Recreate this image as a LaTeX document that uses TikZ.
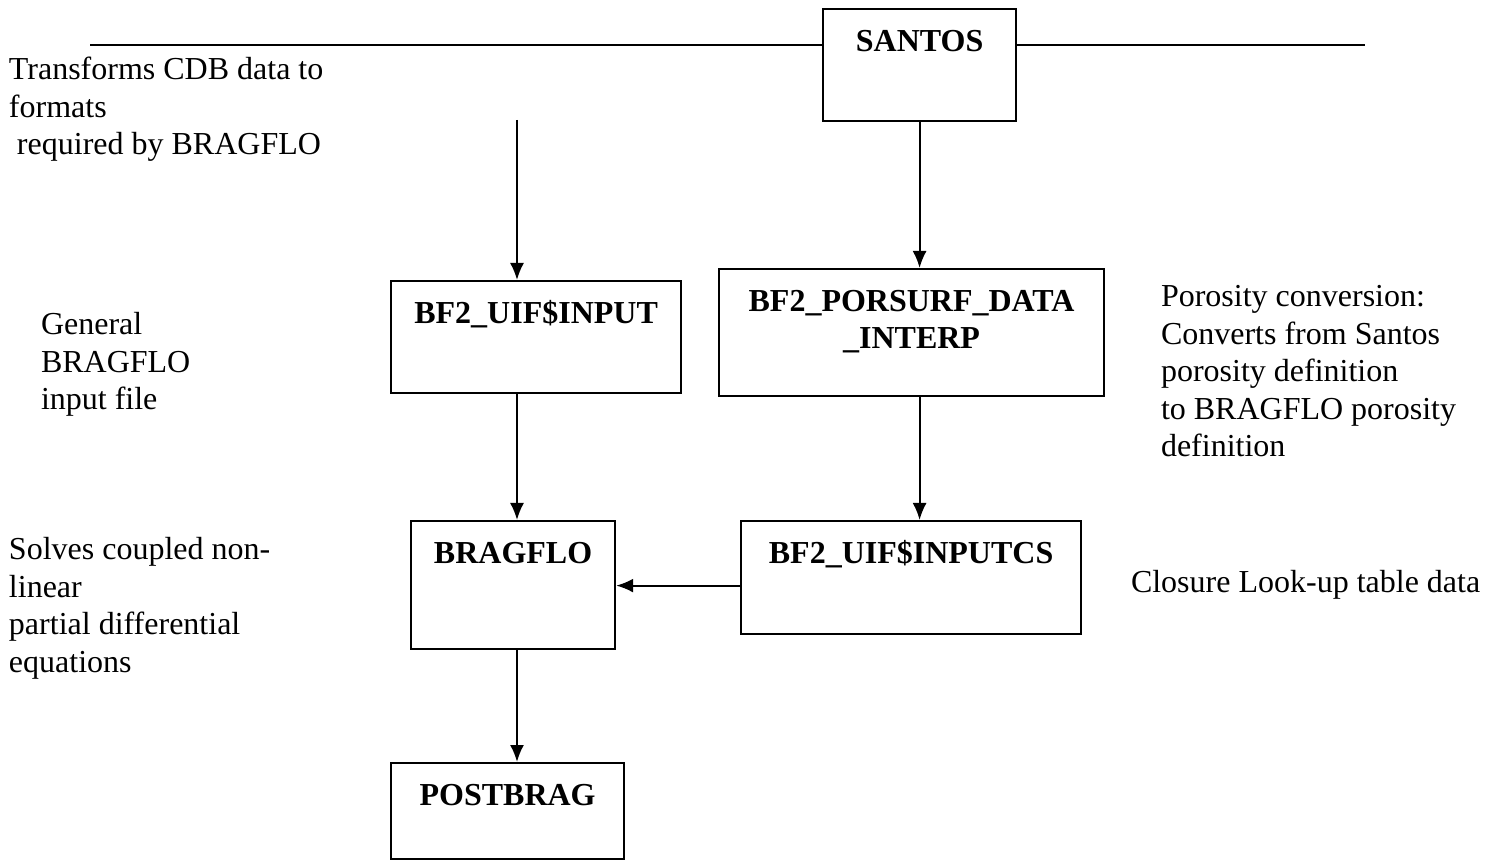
\documentclass[tikz,border=0pt]{standalone}
\usepackage{fontspec}
\setmainfont{Liberation Serif}
\usepackage{tikz}
\usetikzlibrary{arrows.meta}

\begin{document}
\begin{tikzpicture}[x=0.5pt,y=-0.5pt,>={Latex[length=8.5pt,width=7pt]},line width=1pt,
    every node/.style={font=\fontsize{16}{18.75}\selectfont},
    prog/.style={draw,line width=1.1pt,font=\bfseries\fontsize{16}{18.75}\selectfont,
        inner sep=0pt,anchor=north west,text height=21pt,align=center},
    note/.style={inner sep=0pt,anchor=base west,align=left}]
    \useasboundingbox (0,0) rectangle (1501,861);

    \node[prog,minimum width=96.5pt,text depth=35pt] (santos) at (822,8) {SANTOS};
    \node[prog,minimum width=145pt,text depth=35pt] (input) at (390,280) {BF2\_UIF\$INPUT};
    \node[prog,minimum width=192.5pt,text height=39.75pt,text depth=23.75pt] (porsurf) at (718,268) {BF2\_PORSURF\_DATA\\\_INTERP};
    \node[prog,minimum width=102pt,text depth=43pt] (bragflo) at (410,520) {BRAGFLO};
    \node[prog,minimum width=170pt,text depth=35.5pt] (inputcs) at (740,520) {BF2\_UIF\$INPUTCS};
    \node[prog,minimum width=116.5pt,text depth=27pt] (postbrag) at (390,762) {POSTBRAG};

    % line through santos
    \coordinate (busl) at (90,45);
    \coordinate (busr) at (1365,45);
    \draw (busl) -- (busl -| santos.west);
    \draw (santos.east |- busr) -- (busr);

    \coordinate (feed) at (517,120);
    \draw[->] (feed) -- (feed |- input.north);
    \draw[->] (santos.south) -- (santos.south |- porsurf.north);
    \draw[->] (feed |- input.south) -- (feed |- bragflo.north);
    \draw[->] (santos.south |- porsurf.south) -- (santos.south |- inputcs.north);
    \draw[->] ([yshift=-4pt]inputcs.west) -- ([yshift=-4pt]inputcs.west -| bragflo.east);
    \draw[->] (feed |- bragflo.south) -- (feed |- postbrag.north);

    % notes, placed at the baseline of their last line
    \node[note] (cdb) at (8,155) {Transforms CDB data to\\formats\\\ required by BRAGFLO};
    \node[note] (general) at (40,410) {General\\BRAGFLO\\input file};
    \node[note] (porosity) at (1160,457) {Porosity conversion:\\Converts from Santos\\porosity definition\\to BRAGFLO porosity\\definition};
    \node[note] (solves) at (8,672) {Solves coupled non-\\linear\\partial differential\\equations};
    \node[note] (closure) at (1130,592) {Closure Look-up table data};
\end{tikzpicture}
\end{document}
